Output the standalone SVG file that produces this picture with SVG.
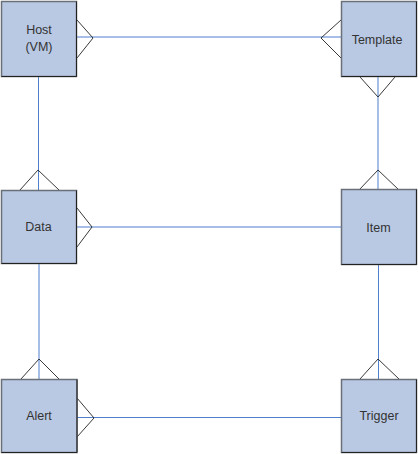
<svg xmlns="http://www.w3.org/2000/svg" width="418" height="454" viewBox="0 0 418 454">
<style>
.box{fill:#b9c9e4;stroke:#6a6f78;stroke-width:1.5}
.sh{fill:none;stroke:#222;stroke-width:1}
.lbl{font-family:"Liberation Sans",Arial,sans-serif;font-size:12.5px;fill:#333;text-anchor:middle}
.c{fill:none;stroke:#4f7fcc;stroke-width:1}
.ft{fill:none;stroke:#222;stroke-width:0.9}
</style>
<rect width="418" height="454" fill="#fff"/>
<g id="connectors">
<line class="c" x1="77" y1="37" x2="341" y2="37"/>
<line class="c" x1="38.5" y1="77" x2="38.5" y2="190"/>
<line class="c" x1="378" y1="77" x2="378" y2="189"/>
<line class="c" x1="77" y1="227" x2="341" y2="227"/>
<line class="c" x1="39" y1="263" x2="39" y2="379"/>
<line class="c" x1="378.5" y1="265" x2="378.5" y2="379"/>
<line class="c" x1="77" y1="417.5" x2="341" y2="417.5"/>
<polyline class="ft" points="77,20 93,38 77,58"/>
<polyline class="ft" points="341,20 321,38 341,58"/>
<polyline class="ft" points="360,77 378,97 395,77"/>
<polyline class="ft" points="359,190 378,170 399,190"/>
<polyline class="ft" points="20,190 38,170 59,190"/>
<polyline class="ft" points="77,208 92,227 77,247"/>
<polyline class="ft" points="21,379 39,359 59,379"/>
<polyline class="ft" points="360,379 378,359 399,379"/>
<polyline class="ft" points="77,398 94,418 77,437"/>
</g>
<g id="host">
<rect class="box" x="1.5" y="1.5" width="75" height="75"/>
<polyline class="sh" points="76.5,1.5 76.5,76.5 1.5,76.5"/>
<text class="lbl" x="39" y="34">Host</text>
<text class="lbl" x="39" y="51">(VM)</text>
</g>
<g id="template">
<rect class="box" x="341.5" y="1.5" width="75" height="75"/>
<polyline class="sh" points="416.5,1.5 416.5,76.5 341.5,76.5"/>
<text class="lbl" x="377" y="43.5">Template</text>
</g>
<g id="data">
<rect class="box" x="1.5" y="190.5" width="75" height="73"/>
<polyline class="sh" points="76.5,190.5 76.5,263.5 1.5,263.5"/>
<text class="lbl" x="38.5" y="231">Data</text>
</g>
<g id="item">
<rect class="box" x="341.5" y="189.5" width="75" height="75"/>
<polyline class="sh" points="416.5,189.5 416.5,264.5 341.5,264.5"/>
<text class="lbl" x="378.5" y="231.5">Item</text>
</g>
<g id="alert">
<rect class="box" x="1.5" y="379.5" width="75.5" height="73"/>
<polyline class="sh" points="77,379.5 77,452.5 1.5,452.5"/>
<text class="lbl" x="39" y="419.5">Alert</text>
</g>
<g id="trigger">
<rect class="box" x="341.5" y="379.5" width="75" height="73"/>
<polyline class="sh" points="416.5,379.5 416.5,452.5 341.5,452.5"/>
<text class="lbl" x="379" y="419.5">Trigger</text>
</g>
</svg>
